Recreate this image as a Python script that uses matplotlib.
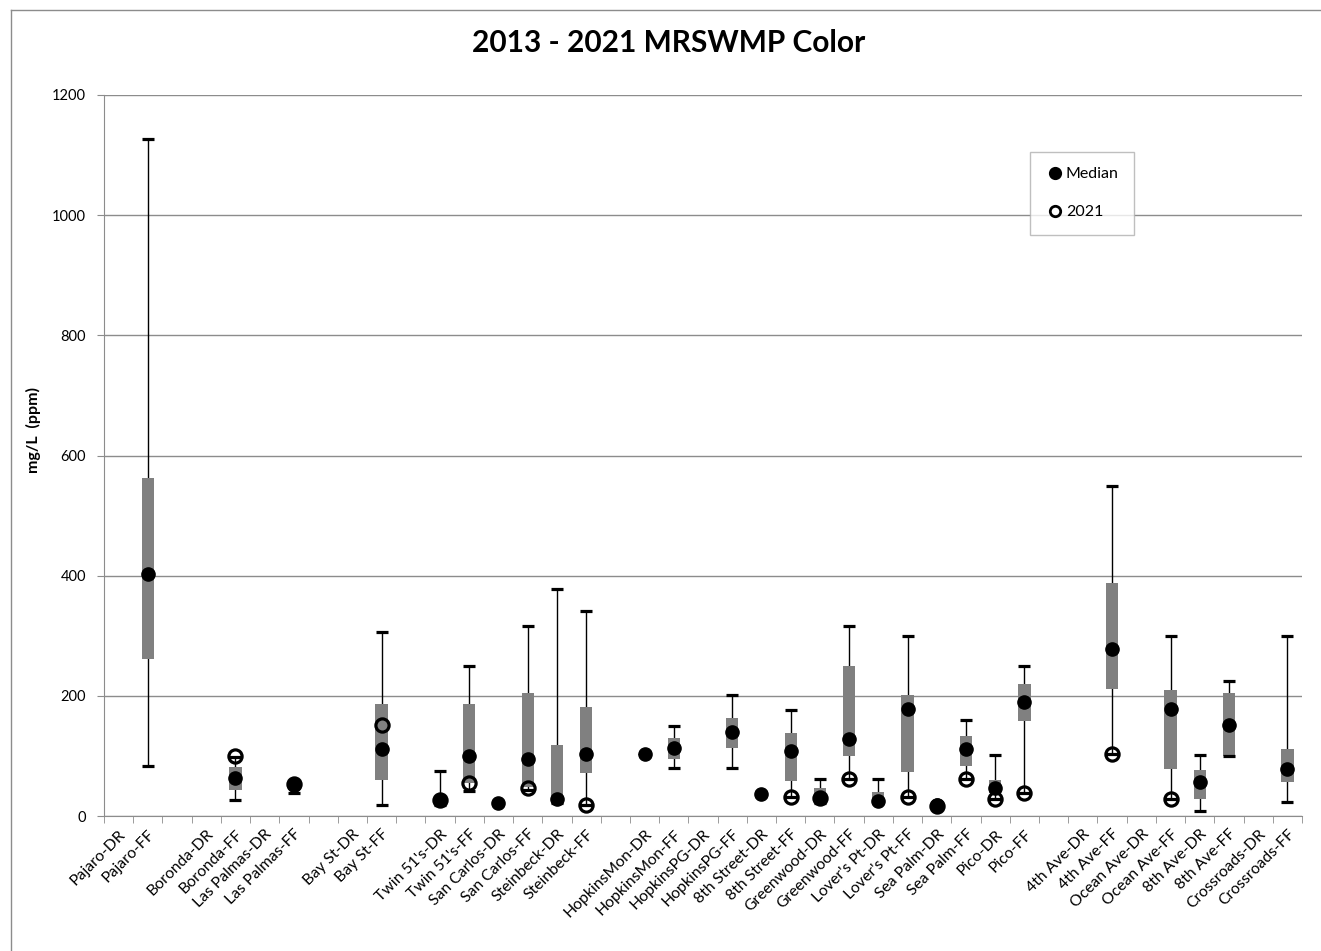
import numpy as np
import matplotlib.pyplot as plt
from matplotlib.lines import Line2D

plt.rcParams['font.family'] = ['Lato', 'DejaVu Sans']

n = np.nan

sites = ['Pajaro-DR', 'Pajaro-FF', '', 'Boronda-DR', 'Boronda-FF', 'Las Palmas-DR',
         'Las Palmas-FF', '', 'Bay St-DR', 'Bay St-FF', '', "Twin 51's-DR", "Twin 51's-FF",
         'San Carlos-DR', 'San Carlos-FF', 'Steinbeck-DR', 'Steinbeck-FF', '',
         'HopkinsMon-DR', 'HopkinsMon-FF', 'HopkinsPG-DR', 'HopkinsPG-FF',
         '8th Street-DR', '8th Street-FF', 'Greenwood-DR', 'Greenwood-FF',
         "Lover's Pt-DR", "Lover's Pt-FF", 'Sea Palm-DR', 'Sea Palm-FF', 'Pico-DR',
         'Pico-FF', '', '4th Ave-DR', '4th Ave-FF', 'Ocean Ave-DR', 'Ocean Ave-FF',
         '8th Ave-DR', '8th Ave-FF', 'Crossroads-DR', 'Crossroads-FF']

# min / lower quartile / median / upper quartile / max / 2021 value, mg/L
v_min = [n, 84, n, n, 27, n, 38, n, n, 19, n, 18, 41, 20, 43, 21, 18, n, 100, 80, n, 80,
         34, 31, 22, 61, 24, 32, 15, 61, 29, 38, n, n, 104, n, 28, 8, 100, n, 23]
v_q1 = [n, 261, n, n, 43, n, 45, n, n, 60, n, 20, 55, 20, 49, 21, 72, n, 101, 95, n, 114,
        35, 58, 24, 100, 24, 74, 16, 83, 39, 158, n, n, 212, n, 79, 29, 100, n, 56]
v_med = [n, 402, n, n, 64, n, 52, n, n, 111, n, 27, 100, 22, 95, 29, 103, n, 103, 114, n, 139,
         37, 108, 30, 128, 25, 178, 18, 112, 46, 189, n, n, 278, n, 178, 56, 151, n, 78]
v_q3 = [n, 563, n, n, 81, n, 58, n, n, 186, n, 30, 186, 24, 205, 119, 182, n, 104, 130, n, 163,
        39, 138, 46, 250, 40, 201, 20, 133, 60, 219, n, n, 387, n, 210, 77, 205, n, 111]
v_max = [n, 1127, n, n, 98, n, 58, n, n, 307, n, 75, 250, 24, 316, 377, 342, n, 105, 150, n, 201,
         40, 176, 62, 316, 62, 300, 21, 160, 101, 250, n, n, 550, n, 300, 101, 225, n, 300]
v_2021 = [n, n, n, n, 100, n, 54, n, n, 151, n, 26, 55, n, 46, n, 18, n, n, n, n, n,
          n, 31, 30, 61, n, 32, 16, 61, 29, 38, n, n, 104, n, 28, n, n, n, n]

x = np.arange(len(sites))
v_min, v_q1, v_med, v_q3, v_max, v_2021 = map(np.array, (v_min, v_q1, v_med, v_q3, v_max, v_2021))

fig = plt.figure(figsize=(13.21, 9.51), dpi=100)
ax = fig.add_axes([104 / 1321, 1 - 816 / 951, 1198 / 1321, 721 / 951])

# whiskers, boxes, caps
ax.vlines(x, v_min, v_max, color='black', lw=1, zorder=1)
ax.bar(x, v_q3 - v_q1, bottom=v_q1, width=0.42, color='#808080', zorder=2)
ax.plot(x, v_min, ls='none', marker='_', ms=9, mew=2.3, color='black', zorder=3)
ax.plot(x, v_max, ls='none', marker='_', ms=9, mew=2.3, color='black', zorder=3)

ax.plot(x, v_med, ls='none', marker='o', ms=9.5, color='black', zorder=4, label='Median')
ax.plot(x, v_2021, ls='none', marker='o', ms=9.5, mfc='none', mec='black', mew=2.3,
        zorder=5, label='2021')

ax.set_xlim(-0.5, len(sites) - 0.5)
ax.set_ylim(0, 1200)
ax.set_yticks(np.arange(0, 1201, 200))
ax.yaxis.grid(True, color='#8c8c8c', lw=1)
ax.set_axisbelow(True)

ax.set_xticks(x)
ax.set_xticklabels(sites, rotation=45, ha='right', rotation_mode='anchor', fontsize=11.3)
ax.tick_params(axis='x', which='major', length=0, pad=8)
ax.set_xticks(np.arange(-0.5, len(sites), 1), minor=True)
ax.tick_params(axis='x', which='minor', length=5, color='#8c8c8c')
ax.tick_params(axis='y', length=5, color='#8c8c8c', labelsize=10.5, pad=8)

for s in ['top', 'right']:
    ax.spines[s].set_visible(False)
for s in ['left', 'bottom']:
    ax.spines[s].set_color('#8c8c8c')

ax.set_ylabel('mg/L  (ppm)', fontsize=11.5, fontweight='bold')
ax.yaxis.set_label_coords(-0.053, 0.535)
fig.text(0.506, 0.955, '2013 - 2021 MRSWMP Color', ha='center', va='center',
         fontsize=21.5, fontweight='bold')

leg = ax.legend(loc='upper left', bbox_to_anchor=(0.773, 0.921), fontsize=11.5,
                frameon=True, fancybox=False, edgecolor='#b0b0b0', labelspacing=1.5,
                handletextpad=0.1, handlelength=1.2, borderpad=0.95, borderaxespad=0)
leg.get_frame().set_linewidth(1)
for h in leg.legend_handles:
    h.set_markersize(7.5)
    h.set_markeredgewidth(2)

# chart area border (only top and left fit inside the picture)
fig.add_artist(Line2D([11 / 1321, 11 / 1321], [0, 1 - 10 / 951], color='#8c8c8c', lw=1))
fig.add_artist(Line2D([11 / 1321, 1], [1 - 10 / 951, 1 - 10 / 951], color='#8c8c8c', lw=1))

fig.savefig('out.png', dpi=100)
